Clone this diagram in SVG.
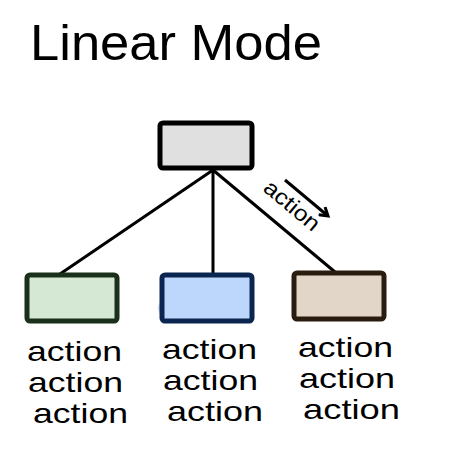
<svg xmlns="http://www.w3.org/2000/svg" width="463" height="468" viewBox="0 0 463 468">
<style>
text{font-family:"Liberation Sans",Arial,sans-serif;fill:#000}
.t{font-size:28px}
.box{stroke-width:5;stroke-linejoin:round}
.edge{stroke:#000;stroke-width:3;fill:none}
</style>
<defs>
<marker id="arr" markerWidth="12" markerHeight="12" refX="9" refY="6" orient="auto" markerUnits="userSpaceOnUse">
<path d="M1,1 L9,6 L1,11" fill="none" stroke="#000" stroke-width="3"/>
</marker>
</defs>
<rect width="463" height="468" fill="#fff"/>
<text x="30" y="60" font-size="50" textLength="292" lengthAdjust="spacingAndGlyphs">Linear Mode</text>
<g id="connectors">
<line class="edge" x1="213" y1="170" x2="60" y2="274"/>
<line class="edge" x1="213" y1="170" x2="213" y2="274"/>
<line class="edge" x1="213" y1="170" x2="335" y2="272"/>
<line class="edge" x1="285" y1="180" x2="328" y2="216" marker-end="url(#arr)"/>
<text transform="translate(262,190) rotate(40)" style="font-size:22px" textLength="66" lengthAdjust="spacingAndGlyphs">action</text>
</g>
<g id="root">
<rect class="box" x="160" y="123" width="92" height="45" rx="3" fill="#e0e0e0" stroke="#000"/>
</g>
<g id="green">
<rect class="box" x="27" y="275" width="90" height="46" rx="3" fill="#d5e8d4" stroke="#1a301a"/>
<text class="t" x="27" y="361" textLength="95" lengthAdjust="spacingAndGlyphs">action</text>
<text class="t" x="28" y="392" textLength="95" lengthAdjust="spacingAndGlyphs">action</text>
<text class="t" x="33" y="423" textLength="95" lengthAdjust="spacingAndGlyphs">action</text>
</g>
<g id="blue">
<ellipse cx="180" cy="308" rx="22" ry="14" fill="#b8d4fa" opacity="0.8"/>
<rect class="box" x="162" y="275" width="90" height="46" rx="3" fill="#bcd7fb" stroke="#0a2550"/>
<text class="t" x="162" y="359" textLength="95" lengthAdjust="spacingAndGlyphs">action</text>
<text class="t" x="163" y="390" textLength="95" lengthAdjust="spacingAndGlyphs">action</text>
<text class="t" x="167" y="421" textLength="96" lengthAdjust="spacingAndGlyphs">action</text>
</g>
<g id="brown">
<rect class="box" x="294" y="273" width="90" height="46" rx="3" fill="#e2d6c8" stroke="#2a1d10"/>
<text class="t" x="298" y="357" textLength="95" lengthAdjust="spacingAndGlyphs">action</text>
<text class="t" x="299" y="388" textLength="96" lengthAdjust="spacingAndGlyphs">action</text>
<text class="t" x="303" y="419" textLength="97" lengthAdjust="spacingAndGlyphs">action</text>
</g>
</svg>
